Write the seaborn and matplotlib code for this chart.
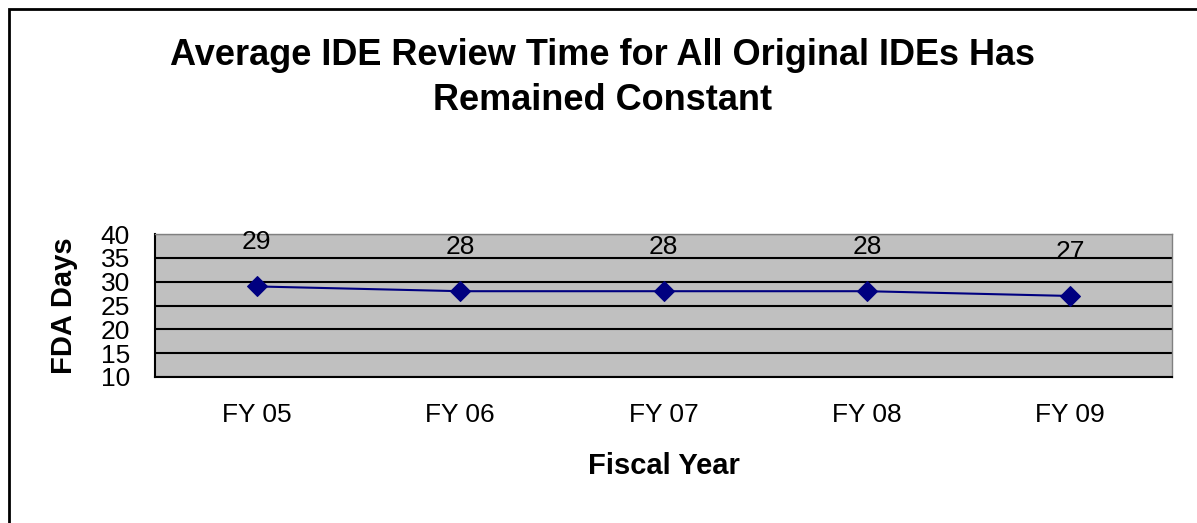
import matplotlib
matplotlib.use("Agg")
import matplotlib.pyplot as plt
import seaborn as sns
import pandas as pd
from matplotlib.patches import Rectangle

categories = ["FY 05", "FY 06", "FY 07", "FY 08", "FY 09"]
values = [29, 28, 28, 28, 27]
yticks = [10, 15, 20, 25, 30, 35, 40]

sns.set_theme(style="white")
plt.rcParams['font.family'] = ['Liberation Sans', 'DejaVu Sans']
plt.rcParams['text.color'] = 'black'
plt.rcParams['axes.labelcolor'] = 'black'
plt.rcParams['xtick.color'] = 'black'
plt.rcParams['ytick.color'] = 'black'

df = pd.DataFrame({"year": categories, "days": values})

fig = plt.figure(figsize=(11.97, 5.23), dpi=100)
ax = fig.add_axes([155/1197, 1-377/523, (1172-155)/1197, (377-234)/523])
ax.set_facecolor("#C0C0C0")

x = list(range(len(categories)))
sns.lineplot(x=x, y=df["days"], ax=ax, color="#000080", linewidth=1.5,
             marker="D", markersize=10, markeredgecolor="#000080")

for xi, v in zip(x, values):
    ax.annotate(str(v), (xi, v), xytext=(0, 32), textcoords="offset points",
                ha="center", va="center", fontsize=19, color="black")

ax.set_xlim(-0.5, 4.5)
ax.set_ylim(10, 40)
ax.set_yticks(yticks)
ax.set_yticklabels([str(t) for t in yticks], fontsize=19)
ax.set_xticks(x)
ax.set_xticklabels(categories, fontsize=19)
ax.tick_params(axis="x", length=0, pad=19)
ax.set_xticks([i + 0.5 for i in range(-1, 5)], minor=True)
ax.tick_params(axis="x", which="minor", length=9, width=1.5, color="black", direction="out")
ax.tick_params(axis="y", length=7, width=1.5, color="black", direction="out", pad=11)
ax.yaxis.grid(True, color="black", linewidth=1.5)
ax.set_axisbelow(True)
for side in ["top", "right"]:
    ax.spines[side].set_color("#808080")
    ax.spines[side].set_linewidth(1)
for side in ["left", "bottom"]:
    ax.spines[side].set_color("black")
    ax.spines[side].set_linewidth(1.5)

ax.set_xlabel("Fiscal Year", fontsize=21, fontweight="bold", labelpad=18)
ax.set_ylabel("FDA Days", fontsize=21, fontweight="bold", labelpad=16)

fig.text(603/1197, 1-78/523, "Average IDE Review Time for All Original IDEs Has\nRemained Constant",
         ha="center", va="center", fontsize=26, fontweight="bold", linespacing=1.35)

fig.patches.append(Rectangle((9/1197, -0.1), 1.2, 1 - 9/523 + 0.1, transform=fig.transFigure,
                             fill=False, edgecolor="black", linewidth=2))

fig.savefig("out.png", dpi=100, facecolor="white")
